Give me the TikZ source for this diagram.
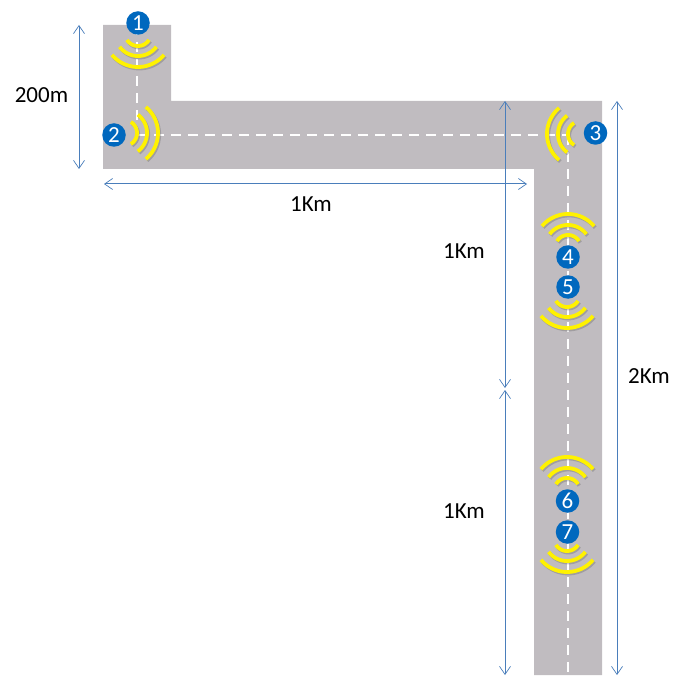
\documentclass[tikz,border=0pt]{standalone}
\usepackage{fontspec}
\setmainfont{Carlito}
\usetikzlibrary{arrows.meta}
\definecolor{roadgray}{HTML}{C0BCC0}
\definecolor{dimblue}{HTML}{4A7EBB}
\definecolor{badgeblue}{HTML}{0068BE}
\tikzset{
  x=1pt,y=-1pt,
  road/.style={fill=roadgray,draw=none},
  centerline/.style={draw=white,line width=2pt,dash pattern=on 10pt off 7pt},
  dimline/.style={draw=dimblue,line width=1pt,{Straight Barb[length=8pt,width=11pt,line width=0.7pt]}-{Straight Barb[length=8pt,width=11pt,line width=0.7pt]}},
  badge/.style={circle,fill=badgeblue,text=white,minimum size=23.5pt,inner sep=0pt,font=\fontsize{23}{23}\selectfont},
  dimlabel/.style={text=black,inner sep=0pt,font=\fontsize{23}{23}\selectfont},
  wavearc/.style={draw=yellow,line width=3.8pt},
  waveshadow/.style={draw=black!60,opacity=0.35,line width=3.8pt}
}
% #1 x, #2 y, #3 direction angle (counter-clockwise on the page)
\newcommand{\wavefan}[3]{%
  \foreach \rr/\hh in {13/58,23/53,34/50}{%
    \draw[waveshadow] plot[domain=#3-\hh:#3+\hh,samples=25,variable=\aa] ({#1+1.2+\rr*cos(\aa)},{#2+1.5-\rr*sin(\aa)});
    \draw[wavearc] plot[domain=#3-\hh:#3+\hh,samples=25,variable=\aa] ({#1+\rr*cos(\aa)},{#2-\rr*sin(\aa)});
  }%
}
\begin{document}
\begin{tikzpicture}
\useasboundingbox (0,0) rectangle (687,684);
\path[road] (103,25) -- (171,25) -- (171,101) -- (602,101) -- (602,675) -- (534,675) -- (534,169) -- (103,169) -- cycle;
\coordinate (d1a) at (137,25);
\coordinate (d1b) at (137,135);
\coordinate (d2b) at (568,135);
\coordinate (d3b) at (568,675);
\draw[centerline] (d1a) -- (d1b);
\draw[centerline] (d1b) -- (d2b);
\draw[centerline] (d2b) -- (d3b);
\wavefan{138}{33}{270}
\wavefan{124}{133}{0}
\wavefan{581}{134}{180}
\wavefan{568}{248}{90}
\wavefan{567}{294}{270}
\wavefan{567}{491}{90}
\wavefan{567}{538}{270}
\node[badge] (b1) at (138,23) {1};
\node[badge] (b2) at (114,135) {2};
\node[badge] (b3) at (595.5,133) {3};
\node[badge] (b4) at (568,257) {4};
\node[badge] (b5) at (568,287) {5};
\node[badge] (b6) at (567.5,501) {6};
\node[badge] (b7) at (567.5,532) {7};
\coordinate (a1) at (79,25);
\coordinate (a2) at (79,169);
\coordinate (c1) at (104,184);
\coordinate (c2) at (527,184);
\coordinate (e1) at (505,101);
\coordinate (e2) at (505,388);
\coordinate (f1) at (505,390);
\coordinate (f2) at (505,675);
\coordinate (g1) at (617,101);
\coordinate (g2) at (617,675);
\draw[dimline] (a1) -- (a2);
\draw[dimline] (c1) -- (c2);
\draw[dimline] (e1) -- (e2);
\draw[dimline] (f1) -- (f2);
\draw[dimline] (g1) -- (g2);
\node[dimlabel] (l200) at (41.5,95.5) {200m};
\node[dimlabel] (l1) at (311,204) {1Km};
\node[dimlabel] (l2) at (464,251) {1Km};
\node[dimlabel] (l3) at (464,511.5) {1Km};
\node[dimlabel] (l4) at (649,376.5) {2Km};
\end{tikzpicture}
\end{document}
